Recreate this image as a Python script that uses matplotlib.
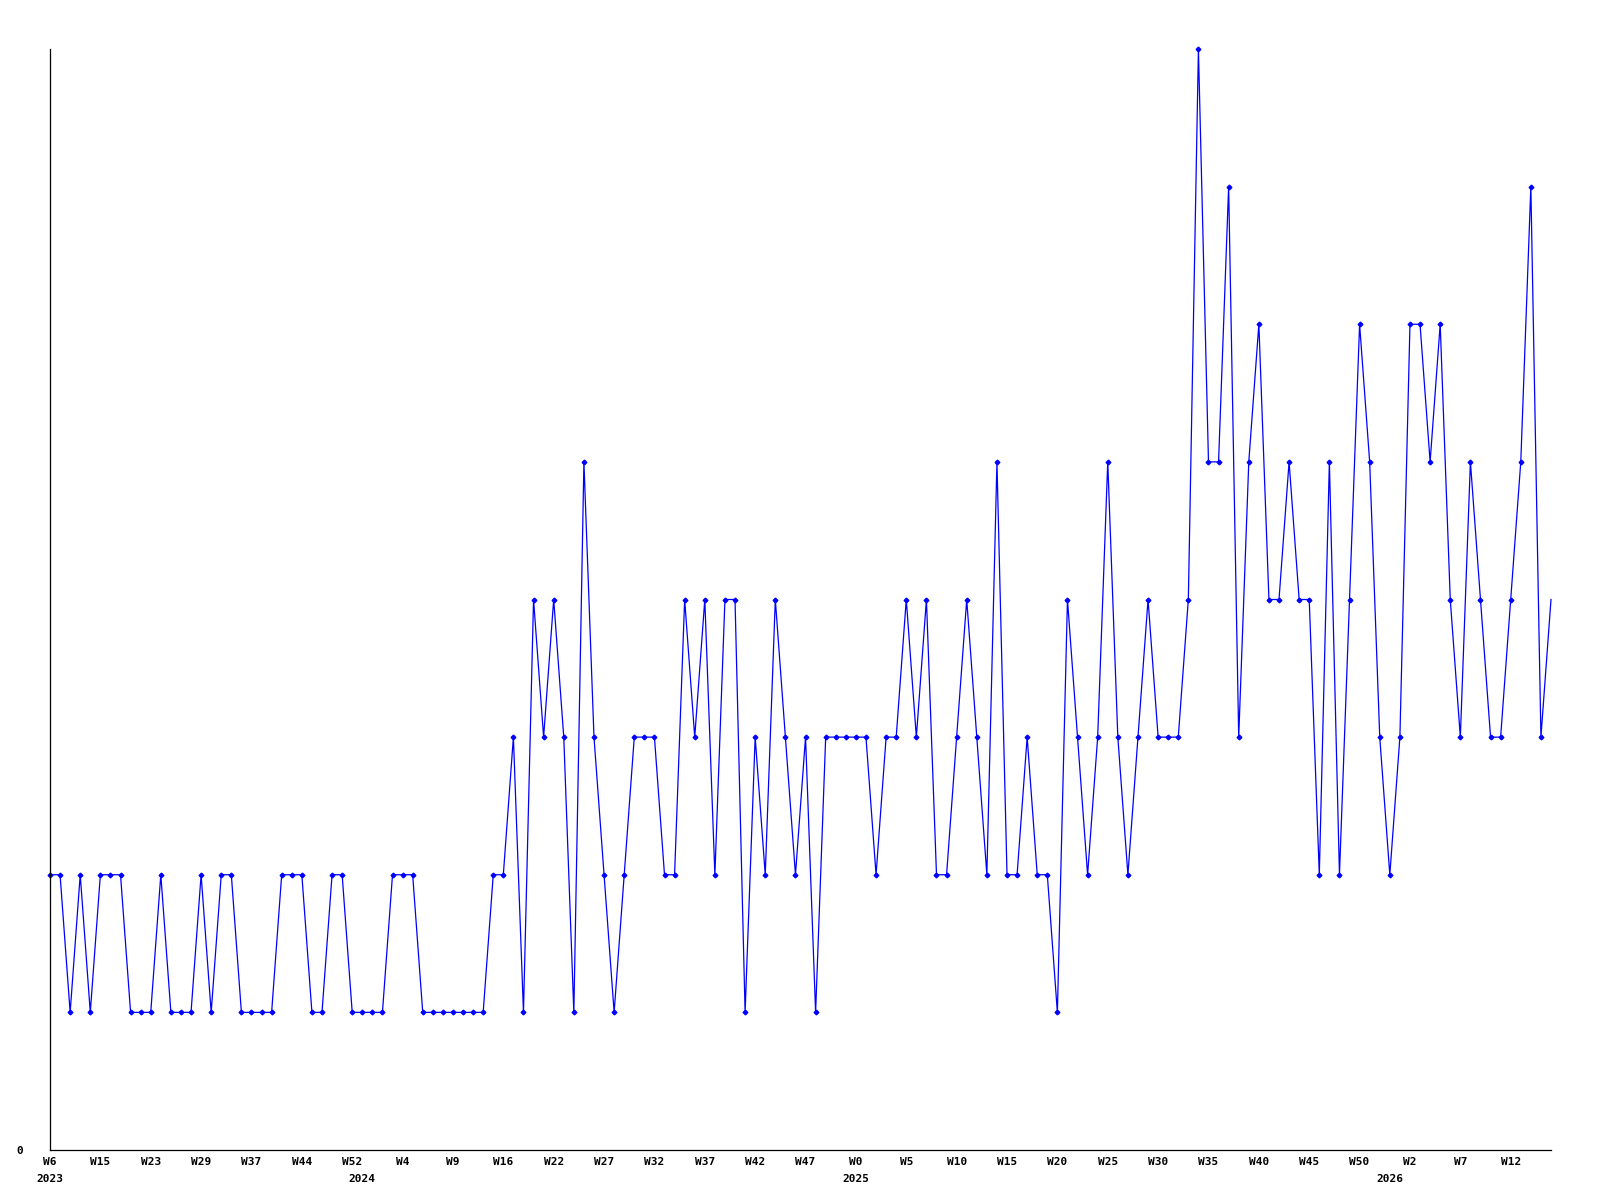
import matplotlib
matplotlib.use("Agg")
import matplotlib.pyplot as plt

# weekly counts, one point per week sample
values = [
    2, 2, 1, 2, 1, 2, 2, 2, 1, 1,
    1, 2, 1, 1, 1, 2, 1, 2, 2, 1,
    1, 1, 1, 2, 2, 2, 1, 1, 2, 2,
    1, 1, 1, 1, 2, 2, 2, 1, 1, 1,
    1, 1, 1, 1, 2, 2, 3, 1, 4, 3,
    4, 3, 1, 5, 3, 2, 1, 2, 3, 3,
    3, 2, 2, 4, 3, 4, 2, 4, 4, 1,
    3, 2, 4, 3, 2, 3, 1, 3, 3, 3,
    3, 3, 2, 3, 3, 4, 3, 4, 2, 2,
    3, 4, 3, 2, 5, 2, 2, 3, 2, 2,
    1, 4, 3, 2, 3, 5, 3, 2, 3, 4,
    3, 3, 3, 4, 8, 5, 5, 7, 3, 5,
    6, 4, 4, 5, 4, 4, 2, 5, 2, 4,
    6, 5, 3, 2, 3, 6, 6, 5, 6, 4,
    3, 5, 4, 3, 3, 4, 5, 7, 3, 4,
]

# one label every 5 samples
week_labels = [
    "W6", "W15", "W23", "W29", "W37", "W44", "W52", "W4", "W9", "W16",
    "W22", "W27", "W32", "W37", "W42", "W47", "W0", "W5", "W10", "W15",
    "W20", "W25", "W30", "W35", "W40", "W45", "W50", "W2", "W7", "W12",
]
years = ["2023", "2024", "2025", "2026"]
year_start_idx = [0, 31, 80, 133]

FONT = dict(family="DejaVu Sans Mono", weight="bold", size=8)

fig = plt.figure(figsize=(16, 12), dpi=100)
ax = fig.add_axes([50 / 1600, 50 / 1200, 1501 / 1600, 1101 / 1200])

x = list(range(len(values)))
ax.plot(x, values, color="#0000FF", lw=0.9, marker="D", ms=2.4,
        markevery=list(range(len(values) - 1)), clip_on=False)

ax.set_xlim(0, len(values) - 1)
ax.set_ylim(0, max(values))

for side in ("top", "right"):
    ax.spines[side].set_visible(False)
for side in ("left", "bottom"):
    ax.spines[side].set_linewidth(0.9)
    ax.spines[side].set_color("black")

ax.set_yticks([0])
ax.set_yticklabels(["0"], fontdict=FONT)
ax.tick_params(axis="y", length=0, pad=19)

# year labels sit on minor ticks; keep them even where they meet a major tick
ax.xaxis.remove_overlapping_locs = False
ax.set_xticks(list(range(0, len(values), 5)))
ax.set_xticklabels(week_labels, fontdict=FONT)
ax.set_xticks(year_start_idx, minor=True)
ax.set_xticklabels(years, minor=True, fontdict=FONT)
ax.tick_params(axis="x", which="major", length=0, pad=5)
ax.tick_params(axis="x", which="minor", length=0, pad=17)

fig.savefig("out.png", dpi=100)
